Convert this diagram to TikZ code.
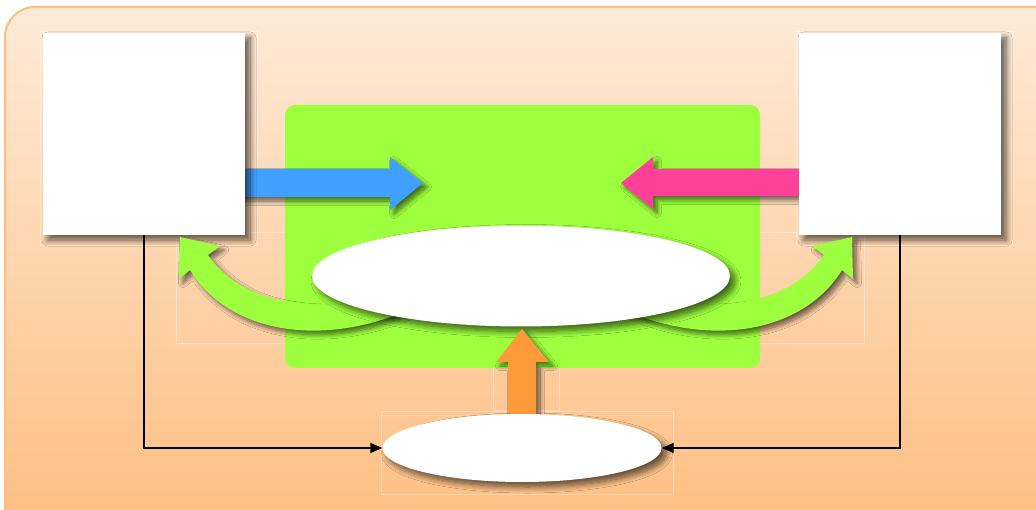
\documentclass[tikz,border=0pt]{standalone}
\usetikzlibrary{shadows.blur,shapes.geometric,arrows.meta}
\definecolor{bgtop}{RGB}{254,234,216}
\definecolor{bgbot}{RGB}{253,189,127}
\definecolor{bgborder}{RGB}{255,190,125}
\definecolor{greenA}{RGB}{157,255,61}
\definecolor{blueA}{RGB}{64,160,255}
\definecolor{pinkA}{RGB}{255,64,153}
\definecolor{orangeA}{RGB}{253,155,58}
\begin{document}
\begin{tikzpicture}[x=1pt,y=-1pt,
  softshadow/.style={blur shadow={shadow xshift=5pt,shadow yshift=-5pt,shadow blur radius=6pt,shadow blur steps=10,shadow opacity=62}},
  smallshadow/.style={blur shadow={shadow xshift=4pt,shadow yshift=-4pt,shadow blur radius=4.5pt,shadow blur steps=10,shadow opacity=58}},
  wbox/.style={fill=white,minimum width=202pt,minimum height=202pt,inner sep=0pt,softshadow},
  wellipse/.style={ellipse,fill=white,inner sep=0pt,softshadow},
  faint/.style={draw=white,draw opacity=0.35,line width=0.8pt},
  conn/.style={draw=black,line width=1.3pt,-{Triangle[length=12pt,width=10pt]}}]
\useasboundingbox (0,0) rectangle (1036,510);
% background panel
\path[top color=bgtop,bottom color=bgbot,draw=bgborder,line width=2pt,rounded corners=30pt]
  (5,7) rectangle (1070,545);
% faint frames
\path[faint] (796,31) rectangle (1012,245);
\path[faint] (40,31) rectangle (257,245);
\path[faint] (176,232) rectangle (395,343);
\path[faint] (637,232) rectangle (864,343);
\path[faint] (493,326) rectangle (559,410);
\path[faint] (381,411) rectangle (673,494);
% green panel
\fill[greenA,rounded corners=10pt] (285,105) rectangle (760,368);
% straight arrows
\fill[blueA,smallshadow] (240,169) -- (390,169) -- (390,157) -- (423,183) -- (390,210) -- (390,197) -- (240,197) -- cycle;
\fill[pinkA,smallshadow] (805,169) -- (653,169) -- (653,157) -- (621,183) -- (653,209) -- (653,196) -- (805,196) -- cycle;
% boxes
\node[wbox] (L) at (144,134) {};
\node[wbox] (R) at (900,134) {};
% curved arrows
\fill[greenA,smallshadow] (180,237) -- (220,246) -- (208,255) .. controls (240,300) and (300,318) .. (420,294)
  -- (430,300) .. controls (330,352) and (230,335) .. (190,270) -- (179,279) -- cycle;
\fill[greenA,smallshadow] (852,237) -- (812,246) -- (824,255) .. controls (792,300) and (732,318) .. (612,294)
  -- (602,300) .. controls (702,352) and (802,335) .. (842,270) -- (853,279) -- cycle;
% big ellipse
\node[wellipse,minimum width=418pt,minimum height=101pt] (E) at (521,276) {};
% orange arrow
\fill[orangeA,smallshadow] (508,420) -- (508,362) -- (496,362) -- (522,329) -- (549,362) -- (536,362) -- (536,420) -- cycle;
% small ellipse
\node[wellipse,minimum width=279pt,minimum height=68pt] (S) at (522,448) {};
% connectors
\draw[conn] (L.south) |- (S.west);
\draw[conn] (R.south) |- (S.east);
\end{tikzpicture}
\end{document}
